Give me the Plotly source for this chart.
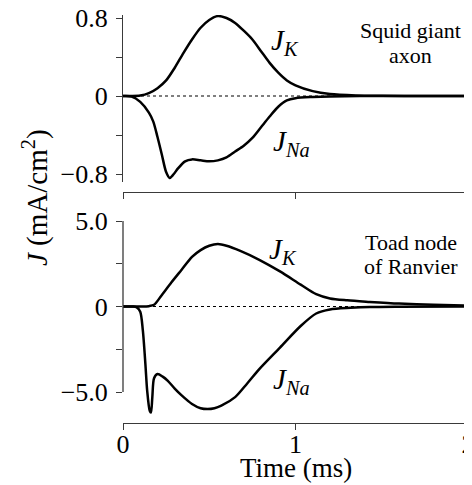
import plotly.graph_objects as go

# ---------------- data ----------------
# Squid giant axon (top panel), time in ms, current density in mA/cm^2
squid_t_k = [0, 0.05, 0.10, 0.15, 0.20, 0.25, 0.30, 0.35, 0.40, 0.45, 0.50, 0.55, 0.60,
             0.65, 0.70, 0.75, 0.80, 0.85, 0.90, 0.95, 1.00, 1.10, 1.20, 1.35, 1.50, 1.75, 2.0]
squid_jk = [0, 0.0, 0.005, 0.03, 0.08, 0.16, 0.29, 0.44, 0.58, 0.70, 0.78, 0.82, 0.80,
            0.75, 0.67, 0.58, 0.46, 0.34, 0.24, 0.16, 0.11, 0.05, 0.02, 0.006, 0.002, 0.0, 0.0]

squid_t_na = [0, 0.05, 0.10, 0.15, 0.175, 0.20, 0.225, 0.25, 0.27, 0.29, 0.32, 0.36, 0.40,
              0.45, 0.50, 0.55, 0.60, 0.65, 0.70, 0.75, 0.80, 0.85, 0.90, 0.95, 1.00, 1.10,
              1.20, 1.50, 2.0]
squid_jna = [0, -0.005, -0.06, -0.17, -0.26, -0.42, -0.60, -0.78, -0.84, -0.81, -0.74, -0.67,
             -0.65, -0.66, -0.67, -0.66, -0.63, -0.57, -0.51, -0.43, -0.32, -0.21, -0.11,
             -0.045, -0.022, -0.01, -0.004, 0.0, 0.0]

# Toad node of Ranvier (bottom panel)
toad_t_k = [0, 0.10, 0.15, 0.18, 0.22, 0.28, 0.34, 0.40, 0.45, 0.50, 0.55, 0.60, 0.68,
            0.79, 0.91, 1.03, 1.12, 1.20, 1.30, 1.43, 1.60, 1.80, 2.0]
toad_jk = [0, 0.0, 0.02, 0.10, 0.60, 1.40, 2.15, 2.90, 3.30, 3.55, 3.65, 3.55, 3.25,
           2.73, 2.05, 1.28, 0.72, 0.47, 0.36, 0.27, 0.17, 0.10, 0.06]

toad_t_na = [0, 0.06, 0.08, 0.10, 0.115, 0.13, 0.14, 0.155, 0.162, 0.17, 0.18, 0.20, 0.23,
             0.26, 0.30, 0.34, 0.40, 0.45, 0.49, 0.53, 0.57, 0.65, 0.72, 0.79, 0.91, 1.03,
             1.12, 1.20, 1.32, 1.43, 1.60, 2.0]
toad_jna = [0, 0.0, -0.05, -0.30, -1.40, -3.40, -4.90, -6.10, -6.20, -5.30, -4.20, -3.95,
            -4.10, -4.35, -4.80, -5.20, -5.70, -5.95, -6.00, -5.95, -5.80, -5.30, -4.50,
            -3.66, -2.40, -1.14, -0.41, -0.17, -0.08, -0.03, -0.01, 0.0]

x_tickvals = [0, 1, 2]
x_ticktext = ["0", "1", "2"]
top_tickvals = [-0.8, 0, 0.8]
top_ticktext = ["\u22120.8", "0", "0.8"]
top_minor = [-0.4, 0.4]
bot_tickvals = [-5, 0, 5]
bot_ticktext = ["\u22125.0", "0", "5.0"]
bot_minor = [-2.5, 2.5]

# ---------------- layout helpers ----------------
# the page body adds an 8 px offset; positions below are window pixels
OFF = 8
W, H = 472 - OFF, 485 - OFF
ML, MR = 123 - OFF, 4
PW = W - ML - MR


def px_x(p):
    return (p - OFF - ML) / PW


def px_y(p):
    return 1 - (p - OFF) / H


FONT = "Liberation Serif"
AXC = "#3a3a3a"

fig = go.Figure()

line_style = dict(color="black", width=2.5, shape="spline", smoothing=0.8)
for t, v, ax, ay in [
    (squid_t_k, squid_jk, "x", "y"),
    (squid_t_na, squid_jna, "x", "y"),
    (toad_t_k, toad_jk, "x2", "y2"),
    (toad_t_na, toad_jna, "x2", "y2"),
]:
    fig.add_trace(go.Scatter(x=t, y=v, mode="lines", line=line_style,
                             xaxis=ax, yaxis=ay, showlegend=False,
                             hoverinfo="skip", cliponaxis=False))

tickfont = dict(family=FONT, size=26, color="black")
tick_common = dict(ticks="outside", ticklen=6, tickwidth=1.3, tickcolor=AXC,
                   linecolor=AXC, linewidth=1.3,
                   showgrid=False, zeroline=False, fixedrange=True,
                   ticklabeloverflow="allow")
minor_common = dict(ticks="outside", ticklen=6, tickwidth=1.3, tickcolor=AXC,
                    showgrid=False)

fig.update_layout(
    width=W, height=H,
    margin=dict(l=ML, r=MR, t=0, b=0, autoexpand=False),
    paper_bgcolor="white", plot_bgcolor="white",
    showlegend=False,
    xaxis=dict(domain=[0, 1], range=[0, 2], anchor="free", position=px_y(192),
               showline=True, tickvals=x_tickvals, showticklabels=False, **tick_common),
    yaxis=dict(domain=[px_y(182), px_y(15)], range=[-0.882, 0.831], anchor="x",
               showline=True,
               tickvals=top_tickvals, ticktext=top_ticktext, tickfont=tickfont,
               ticklabelstandoff=3, minor=dict(tickvals=top_minor, **minor_common),
               **tick_common),
    xaxis2=dict(domain=[0, 1], range=[0, 2], anchor="y2", showline=True,
                tickvals=x_tickvals, ticktext=x_ticktext, tickfont=tickfont,
                ticklabelstandoff=-8, **tick_common),
    yaxis2=dict(domain=[px_y(423), px_y(221)], range=[-6.813, 5.0], anchor="x2",
                showline=False,
                tickvals=bot_tickvals, ticktext=bot_ticktext, tickfont=tickfont,
                ticklabelstandoff=3, minor=dict(tickvals=bot_minor, **minor_common),
                **tick_common),
)

# bottom y-axis spine drawn only over the labelled span [-5, 5]
fig.add_shape(type="line", xref="paper", yref="y2", x0=0, x1=0,
              y0=bot_tickvals[0], y1=bot_tickvals[-1],
              line=dict(color=AXC, width=1.3), layer="above")

# dotted zero lines
for xr, yr in [("x", "y"), ("x2", "y2")]:
    fig.add_shape(type="line", xref=xr, yref=yr, x0=0, x1=2, y0=0, y1=0,
                  line=dict(color="black", width=1.2, dash="dot"), layer="below")

ann = []


def add_text(text, x, y, size, angle=0):
    ann.append(dict(text=text, x=px_x(x), y=px_y(y), xref="paper", yref="paper",
                    showarrow=False, xanchor="center", yanchor="middle",
                    textangle=angle, font=dict(family=FONT, size=size, color="black")))


add_text("<i>J</i><sub><i>K</i></sub>", 285, 42, 29)
add_text("<i>J</i><sub><i>Na</i></sub>", 291, 143, 29)
add_text("<i>J</i><sub><i>K</i></sub>", 283, 251, 29)
add_text("<i>J</i><sub><i>Na</i></sub>", 291, 381, 29)
add_text("Squid giant", 410, 31, 22)
add_text("axon", 410, 56, 22)
add_text("Toad node", 411, 242, 22)
add_text("of Ranvier", 411, 266, 22)
add_text("Time (ms)", 296, 468, 27)
add_text("<i>J</i> (mA/cm<sup>2</sup>)", 35, 198, 29, angle=-90)

fig.update_layout(annotations=ann)

fig.write_html("out.html")
